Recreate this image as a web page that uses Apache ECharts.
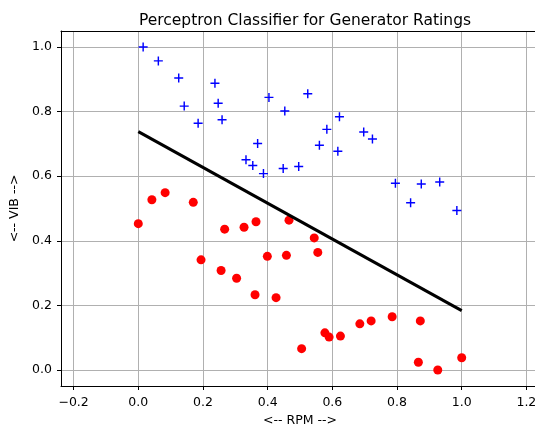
<!DOCTYPE html>
<html>
<head>
<meta charset="utf-8">
<script src="https://cdn.jsdelivr.net/npm/echarts@6/dist/echarts.min.js"></script>
<style>html,body{margin:0;padding:0;background:#fff;overflow:hidden;}#c{width:560px;height:427px;}</style>
</head>
<body>
<div id="c"></div>
<script>
// Data
const goodRPM = [0.015,0.062,0.125,0.142,0.185,0.237,0.247,0.259,0.333,0.354,0.369,0.387,0.404,0.448,0.453,0.496,0.524,0.560,0.583,0.617,0.622,0.697,0.724,0.795,0.842,0.875,0.932,0.985];
const goodVIB = [1.000,0.957,0.904,0.817,0.764,0.888,0.826,0.775,0.651,0.633,0.701,0.608,0.844,0.624,0.802,0.630,0.855,0.696,0.745,0.677,0.784,0.737,0.715,0.578,0.518,0.576,0.582,0.494];
const badRPM = [0.000,0.042,0.083,0.170,0.194,0.256,0.267,0.304,0.327,0.361,0.364,0.399,0.426,0.458,0.466,0.505,0.544,0.555,0.577,0.590,0.625,0.685,0.720,0.785,0.866,0.872,0.926,1.000];
const badVIB = [0.453,0.527,0.549,0.519,0.341,0.308,0.436,0.284,0.442,0.233,0.459,0.352,0.224,0.355,0.464,0.066,0.409,0.364,0.115,0.102,0.105,0.143,0.152,0.165,0.024,0.152,0.000,0.038];
const boundaryRPM = [0, 1];
const boundaryVIB = [0.738, 0.184];
const xTicks = [-0.2, 0.0, 0.2, 0.4, 0.6, 0.8, 1.0, 1.2];
const yTicks = [0.0, 0.2, 0.4, 0.6, 0.8, 1.0];

const fmt = v => (v < -1e-9 ? '\u2212' : '') + Math.abs(v).toFixed(1);
const zip = (a, b) => a.map((v, i) => [v, b[i]]);
const plusPath = 'path://M8.4,0H11.6V8.4H20V11.6H11.6V20H8.4V11.6H0V8.4H8.4Z';
const FONT = 'DejaVu Sans';
const X_MIN = -0.239, X_MAX = 1.239;
const Y_MIN = -0.0495, Y_MAX = 1.0495;

const chart = echarts.init(document.getElementById('c'), null, {renderer: 'canvas'});
chart.setOption({
  animation: false,
  backgroundColor: '#fff',
  title: {
    text: 'Perceptron Classifier for Generator Ratings',
    left: 300, textAlign: 'center', top: 8,
    textStyle: {fontFamily: FONT, fontSize: 15.5, fontWeight: 'normal', color: '#000'}
  },
  grid: {left: 61, top: 31, width: 478, height: 355, outerBoundsMode: 'none', containLabel: false, show: false},
  xAxis: [{
    type: 'value', min: X_MIN, max: X_MAX,
    name: '<-- RPM -->', nameLocation: 'middle', nameGap: 28,
    nameTextStyle: {fontFamily: FONT, fontSize: 12.5, color: '#000'},
    axisLine: {show: true, onZero: false, lineStyle: {color: '#000', width: 1}},
    axisTick: {show: true, length: 4, customValues: xTicks, lineStyle: {color: '#000'}},
    axisLabel: {customValues: xTicks, formatter: fmt, margin: 10, fontFamily: FONT, fontSize: 12.5, color: '#000'},
    splitLine: {show: true, lineStyle: {color: '#b0b0b0', width: 1}}
  }, {
    type: 'value', position: 'top', min: X_MIN, max: X_MAX,
    axisLine: {show: true, onZero: false, lineStyle: {color: '#000', width: 1}},
    axisTick: {show: false}, axisLabel: {show: false}, splitLine: {show: false}
  }],
  yAxis: {
    type: 'value', min: Y_MIN, max: Y_MAX,
    name: '<-- VIB -->', nameLocation: 'middle', nameGap: 38,
    nameTextStyle: {fontFamily: FONT, fontSize: 12.5, color: '#000'},
    axisLine: {show: true, onZero: false, lineStyle: {color: '#000', width: 1}},
    axisTick: {show: true, length: 4, customValues: yTicks, lineStyle: {color: '#000'}},
    axisLabel: {customValues: yTicks, formatter: fmt, margin: 9, fontFamily: FONT, fontSize: 12.5, color: '#000'},
    splitLine: {show: true, lineStyle: {color: '#b0b0b0', width: 1}}
  },
  series: [
    {
      type: 'scatter', data: zip(goodRPM, goodVIB), symbol: plusPath, symbolSize: 9,
      itemStyle: {color: '#0000ff', opacity: 1}, z: 3
    },
    {
      type: 'scatter', data: zip(badRPM, badVIB), symbol: 'circle', symbolSize: 9,
      itemStyle: {color: '#ff0000', opacity: 1}, z: 3
    },
    {
      type: 'line', data: zip(boundaryRPM, boundaryVIB), symbol: 'none',
      lineStyle: {color: '#000', width: 3}, z: 4
    }
  ]
});
</script>
</body>
</html>
